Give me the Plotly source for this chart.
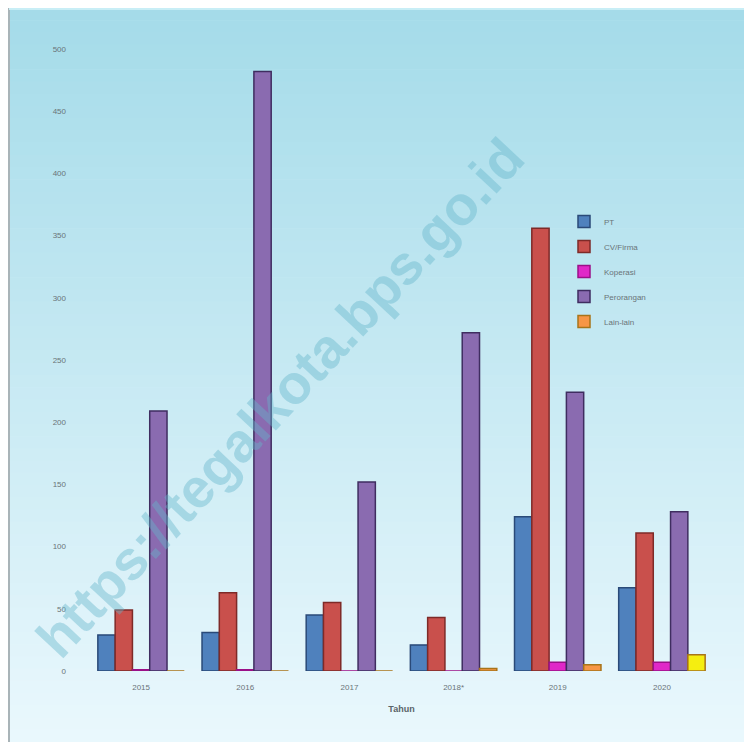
import plotly.graph_objects as go

years = ["2015", "2016", "2017", "2018*", "2019", "2020"]
pt = [29, 31, 45, 21, 124, 67]
cv_firma = [49, 63, 55, 43, 356, 111]
koperasi = [1, 1, 0, 0, 7, 7]
perorangan = [209, 482, 152, 272, 224, 128]
lain_lain = [0, 0, 0, 2, 5, 13]

OFF = 8  # page body margin
W, H = 744, 734
L, R, T, B = 81, 38, 41, 71
pw, ph = W - L - R, H - T - B

def px_x(px):
    return (px - OFF - L) / pw

def px_y(py):
    return (H - B - (py - OFF)) / ph

fig = go.Figure()
series = [
    ("PT", pt, "#4f81bd", "#2a4a78"),
    ("CV/Firma", cv_firma, "#c9504c", "#7e2a28"),
    ("Koperasi", koperasi, "#e028c8", "#9a1088"),
    ("Perorangan", perorangan, "#8a6bb0", "#3f2d60"),
]
for name, vals, col, lc in series:
    fig.add_trace(go.Bar(name=name, x=years, y=vals, legendgroup=name,
                         marker=dict(color=col, line=dict(color=lc, width=1.5))))

lain_colors = ["#f79646"] * 5 + ["#f5ee10"]
fig.add_trace(go.Bar(name="Lain-lain", x=years, y=lain_lain, legendgroup="Lain-lain",
                     marker=dict(color=lain_colors, line=dict(color="#a8741a", width=1.5))))

# gradient background over the whole figure
shapes = []
n = 60
c0 = (164, 219, 233)
c1 = (234, 248, 253)
for i in range(n):
    a = H * i / n
    b = H * (i + 1) / n
    t = (i + 0.5) / n
    c = tuple(int(round(c0[k] + (c1[k] - c0[k]) * t)) for k in range(3))
    shapes.append(dict(type="rect", xref="paper", yref="paper", layer="below",
                       x0=px_x(OFF - 2), x1=px_x(OFF + W + 2),
                       y0=px_y(OFF + b + 0.6), y1=px_y(OFF + a),
                       fillcolor="rgb(%d,%d,%d)" % c, line=dict(width=0)))
shapes.append(dict(type="line", xref="paper", yref="paper", layer="below",
                   x0=px_x(OFF + 1), x1=px_x(OFF + 1), y0=px_y(OFF + H), y1=px_y(OFF),
                   line=dict(color="#a9b4b8", width=2)))
shapes.append(dict(type="line", xref="paper", yref="paper", layer="below",
                   x0=px_x(OFF + 1), x1=px_x(OFF + W), y0=px_y(OFF + 1), y1=px_y(OFF + 1),
                   line=dict(color="#c8eef6", width=2)))

fig.update_layout(
    width=W, height=H,
    margin=dict(l=L, r=R, t=T, b=B),
    paper_bgcolor="#e8f7fc",
    plot_bgcolor="rgba(0,0,0,0)",
    barmode="group",
    bargap=0.17,
    bargroupgap=0,
    shapes=shapes,
    font=dict(family="Liberation Sans, Arial, sans-serif", color="#6a7478", size=8),
    xaxis=dict(showgrid=False, showline=False, zeroline=False, ticks="",
               tickfont=dict(size=8, color="#6a7478"), ticklabelstandoff=10,
               title=dict(text="<b>Tahun</b>", font=dict(size=9, color="#5a6468"), standoff=14)),
    yaxis=dict(range=[0, 500], dtick=50, showgrid=False, showline=False, zeroline=False,
               ticks="", tickfont=dict(size=8, color="#6a7478"), ticklabelstandoff=22),
    legend=dict(x=px_x(564), y=px_y(207), xanchor="left", yanchor="top",
                bgcolor="rgba(0,0,0,0)", font=dict(size=8, color="#6a7478"),
                traceorder="grouped", tracegroupgap=6, itemwidth=30),
    showlegend=True,
    annotations=[dict(text="<b>https://tegalkota.bps.go.id</b>", xref="paper", yref="paper",
                      x=px_x(280), y=px_y(398), xanchor="center", yanchor="middle",
                      showarrow=False, textangle=-47,
                      font=dict(size=55, color="rgba(100,182,202,0.42)",
                                family="Liberation Sans, Arial, sans-serif"))],
)

fig.write_html("out.html")
